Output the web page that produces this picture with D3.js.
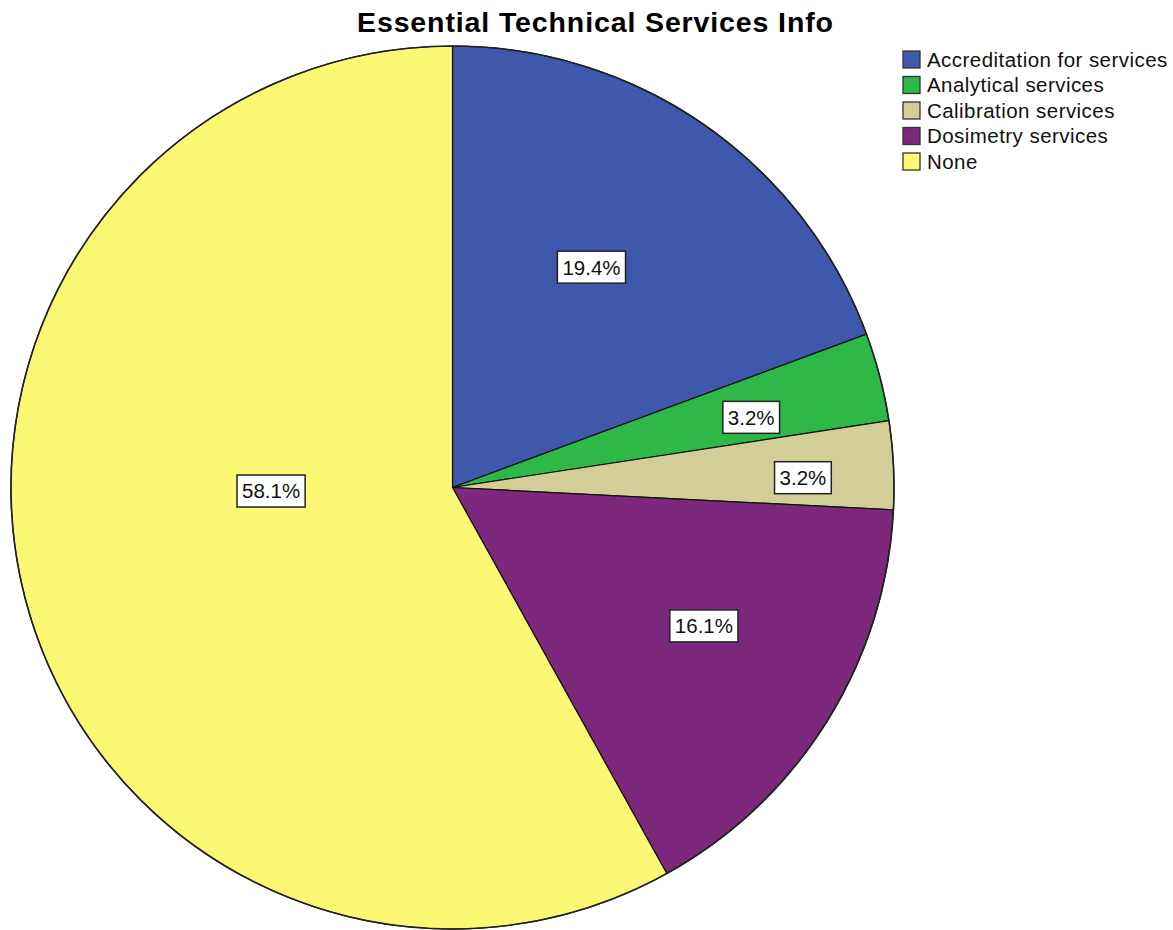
<!DOCTYPE html>
<html>
<head>
<meta charset="utf-8">
<script src="https://cdn.jsdelivr.net/npm/d3@7"></script>
<style>
  html, body { margin: 0; padding: 0; background: #fff; }
  svg { display: block; font-family: "Liberation Sans", Arial, sans-serif; }
</style>
</head>
<body>
<svg id="chart" width="1173" height="930"></svg>
<script>
// Survey responses: which essential technical services are available
const categories = ["Accreditation for services", "Analytical services", "Calibration services", "Dosimetry services", "None"];
const counts = [6, 1, 1, 5, 18];
const colors = ["#3E58AC", "#2EB848", "#D3CE97", "#7C287D", "#FBF873"];
const title = "Essential Technical Services Info";

const svg = d3.select("#chart");
const cx = 452.5, cy = 487.5, R = 441.5;

// Title
svg.append("text")
  .attr("x", 595).attr("y", 32)
  .attr("text-anchor", "middle")
  .attr("font-size", 28.5).attr("font-weight", "bold")
  .attr("textLength", 476).attr("lengthAdjust", "spacing")
  .attr("fill", "#000")
  .text(title);

const total = d3.sum(counts);
const rows = categories.map((c, i) => ({ name: c, value: counts[i], color: colors[i] }));

const pie = d3.pie().value(d => d.value).sort(null);
const arcs = pie(rows);
const arc = d3.arc().innerRadius(0).outerRadius(R);

const g = svg.append("g").attr("transform", `translate(${cx},${cy})`);

g.selectAll("path.slice")
  .data(arcs)
  .join("path")
  .attr("class", "slice")
  .attr("d", arc)
  .attr("fill", d => d.data.color)
  .attr("stroke", "#111")
  .attr("stroke-width", 1.2)
  .attr("stroke-linejoin", "round");

// outer rim
g.append("circle").attr("r", R).attr("fill", "none").attr("stroke", "#222").attr("stroke-width", 1.6);

// Percentage labels: radius fraction and angular nudge (degrees) per slice
const labelRadius = [0.59, 0.695, 0.794, 0.65, 0.411];
const labelNudge = [-2.6, 1.3, 1.3, -3.1, 13.4];
const fmt = v => (v / total * 100).toFixed(1) + "%";

arcs.forEach((d, i) => {
  const mid = (d.startAngle + d.endAngle) / 2 + labelNudge[i] * Math.PI / 180;
  const r = R * labelRadius[i];
  const x = Math.sin(mid) * r, y = -Math.cos(mid) * r;
  const lg = g.append("g").attr("transform", `translate(${x},${y})`);
  const t = lg.append("text")
    .attr("text-anchor", "middle")
    .attr("dy", "0.36em")
    .attr("font-size", 20.5)
    .attr("fill", "#111")
    .text(fmt(d.data.value));
  const bb = t.node().getBBox();
  const padX = 5, h = 32;
  lg.insert("rect", "text")
    .attr("x", -bb.width / 2 - padX)
    .attr("y", -h / 2)
    .attr("width", bb.width + 2 * padX)
    .attr("height", h)
    .attr("fill", "#fff")
    .attr("stroke", "#222")
    .attr("stroke-width", 1.5);
});

// Legend
const legend = svg.append("g").attr("transform", "translate(903,51)");
const item = legend.selectAll("g")
  .data(rows)
  .join("g")
  .attr("transform", (d, i) => `translate(0,${i * 25.5})`);
item.append("rect")
  .attr("width", 17).attr("height", 17)
  .attr("fill", d => d.color)
  .attr("stroke", "#333").attr("stroke-width", 1.3);
item.append("text")
  .attr("x", 24).attr("y", 8.5)
  .attr("dy", "0.36em")
  .attr("font-size", 20.5)
  .attr("letter-spacing", 0.45)
  .attr("fill", "#111")
  .text(d => d.name);
</script>
</body>
</html>
